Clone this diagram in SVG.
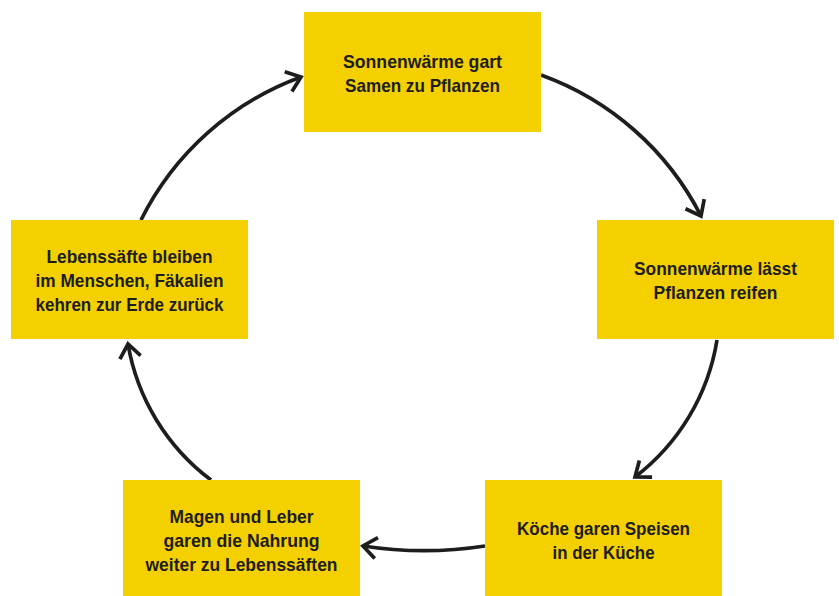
<svg xmlns="http://www.w3.org/2000/svg" width="839" height="596" viewBox="0 0 839 596">
  <style>
    .box { fill: #F5D000; }
    .lbl { font-family: "Liberation Sans", Arial, sans-serif; font-weight: bold; font-size: 19px; fill: #1d1d1b; text-anchor: middle; }
    .arc { fill: none; stroke: #1d1d1b; stroke-width: 3.7; marker-end: url(#chev); }
  </style>
  <defs>
    <marker id="chev" markerUnits="userSpaceOnUse" markerWidth="40" markerHeight="40" viewBox="-20 -20 40 40" refX="0" refY="0" orient="auto" overflow="visible">
      <path d="M-13.5,-10.5 L0,0 L-13.5,10.5" fill="none" stroke="#1d1d1b" stroke-width="3.7" stroke-linejoin="miter"/>
    </marker>
  </defs>
  <rect width="839" height="596" fill="#ffffff"/>
  <g id="connectors">
    <path class="arc" d="M541,75 A290,290 0 0 1 701,216"/>
    <path class="arc" d="M717,340 A215,215 0 0 1 635,477"/>
    <path class="arc" d="M485,546 A400,400 0 0 1 363,546"/>
    <path class="arc" d="M211,480 A215,215 0 0 1 128,344"/>
    <path class="arc" d="M141,220 A290,290 0 0 1 301,77"/>
  </g>
  <g id="node-top">
    <rect class="box" x="304" y="12" width="237" height="120"/>
    <text class="lbl"><tspan x="422.5" y="68" textLength="159" lengthAdjust="spacingAndGlyphs">Sonnenwärme gart</tspan><tspan x="422.5" y="92" textLength="155" lengthAdjust="spacingAndGlyphs">Samen zu Pflanzen</tspan></text>
  </g>
  <g id="node-right">
    <rect class="box" x="597" y="220" width="237" height="119"/>
    <text class="lbl"><tspan x="715.5" y="275" textLength="163" lengthAdjust="spacingAndGlyphs">Sonnenwärme lässt</tspan><tspan x="715.5" y="299" textLength="124" lengthAdjust="spacingAndGlyphs">Pflanzen reifen</tspan></text>
  </g>
  <g id="node-bottom-right">
    <rect class="box" x="485" y="480" width="237" height="120"/>
    <text class="lbl"><tspan x="603.5" y="535" textLength="173" lengthAdjust="spacingAndGlyphs">Köche garen Speisen</tspan><tspan x="603.5" y="559" textLength="102" lengthAdjust="spacingAndGlyphs">in der Küche</tspan></text>
  </g>
  <g id="node-bottom-left">
    <rect class="box" x="123" y="480" width="237" height="120"/>
    <text class="lbl"><tspan x="241.5" y="523" textLength="144" lengthAdjust="spacingAndGlyphs">Magen und Leber</tspan><tspan x="241.5" y="547" textLength="156" lengthAdjust="spacingAndGlyphs">garen die Nahrung</tspan><tspan x="241.5" y="571" textLength="192" lengthAdjust="spacingAndGlyphs">weiter zu Lebenssäften</tspan></text>
  </g>
  <g id="node-left">
    <rect class="box" x="11" y="220" width="237" height="119"/>
    <text class="lbl"><tspan x="129.5" y="263" textLength="166" lengthAdjust="spacingAndGlyphs">Lebenssäfte bleiben</tspan><tspan x="129.5" y="287" textLength="188" lengthAdjust="spacingAndGlyphs">im Menschen, Fäkalien</tspan><tspan x="129.5" y="311" textLength="188" lengthAdjust="spacingAndGlyphs">kehren zur Erde zurück</tspan></text>
  </g>
</svg>
